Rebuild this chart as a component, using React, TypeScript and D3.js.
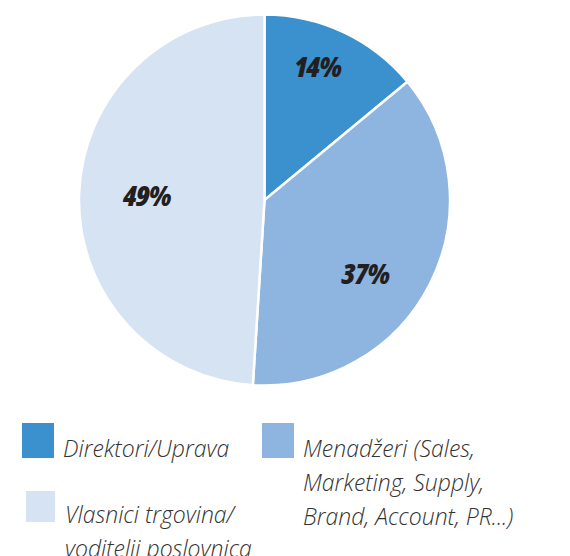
import React from "react";
import * as d3 from "d3";

const categories = ["Direktori/Uprava", "Menadžeri (Sales, Marketing, Supply, Brand, Account, PR...)", "Vlasnici trgovina/ voditelji poslovnica"];
const values = [14, 37, 49];
const valueLabels = ["14%", "37%", "49%"];
const legendLines = [
  ["Direktori/Uprava"],
  ["Menadžeri (Sales,", "Marketing, Supply,", "Brand, Account, PR...)"],
  ["Vlasnici trgovina/", "voditelji poslovnica"],
];

const colors = ["#3b91ce", "#8eb4e0", "#d5e3f3"];
const labelRadiusFactor = [0.77, 0.67, 0.635];
const labelNudge = [
  [-8, -4],
  [-10, 17],
  [0, -1],
];

const W = 570;
const H = 556;
const CX = 264.5;
const CY = 200;
const R = 185.5;
const LABEL_SIZE = 29;

export default function App() {
  const pie = d3.pie<number>().sort(null).value((d) => d).startAngle(0).endAngle(2 * Math.PI);
  const arcs = pie(values);
  const arcGen = d3.arc<d3.PieArcDatum<number>>().innerRadius(0).outerRadius(R);

  const legendPos = [
    { x: 22, y: 423, w: 32, h: 35, tx: 63, ty: 457 },
    { x: 262, y: 423, w: 32, h: 35, tx: 303, ty: 457 },
    { x: 26, y: 491, w: 29, h: 31, tx: 65, ty: 523 },
  ];
  const lineH = 34;

  return (
    <div style={{ position: "absolute", left: 0, top: 0 }}>
      <svg width={W} height={H} style={{ display: "block" }}>
        <rect width={W} height={H} fill="#ffffff" />
        <g transform={`translate(${CX},${CY})`}>
          {arcs.map((a, i) => (
            <path key={i} d={arcGen(a) || ""} fill={colors[i]} stroke="#ffffff" strokeWidth={2.5} strokeLinejoin="miter" />
          ))}
          {arcs.map((a, i) => {
            const lr = R * labelRadiusFactor[i];
            const c = d3.arc<d3.PieArcDatum<number>>().innerRadius(lr).outerRadius(lr).centroid(a);
            return (
              <text
                key={i}
                x={c[0] + labelNudge[i][0]}
                y={c[1] + labelNudge[i][1] + LABEL_SIZE * 0.357}
                textAnchor="middle"
                fontFamily="'Open Sans', sans-serif"
                fontWeight={800}
                fontStyle="italic"
                fontSize={LABEL_SIZE}
                letterSpacing={-1}
                fill="#231f20"
                style={{ fontStretch: "condensed" }}
              >
                {valueLabels[i]}
              </text>
            );
          })}
        </g>
        {categories.map((c, i) => (
          <g key={i}>
            <rect x={legendPos[i].x} y={legendPos[i].y} width={legendPos[i].w} height={legendPos[i].h} fill={colors[i]} />
            <text
              fontFamily="'Open Sans', sans-serif"
              fontStyle="italic"
              fontWeight={300}
              fontSize={23}
              fill="#333333"
            >
              {legendLines[i].map((l, j) => (
                <tspan key={j} x={legendPos[i].tx} y={legendPos[i].ty + j * lineH}>
                  {l}
                </tspan>
              ))}
            </text>
          </g>
        ))}
      </svg>
    </div>
  );
}
